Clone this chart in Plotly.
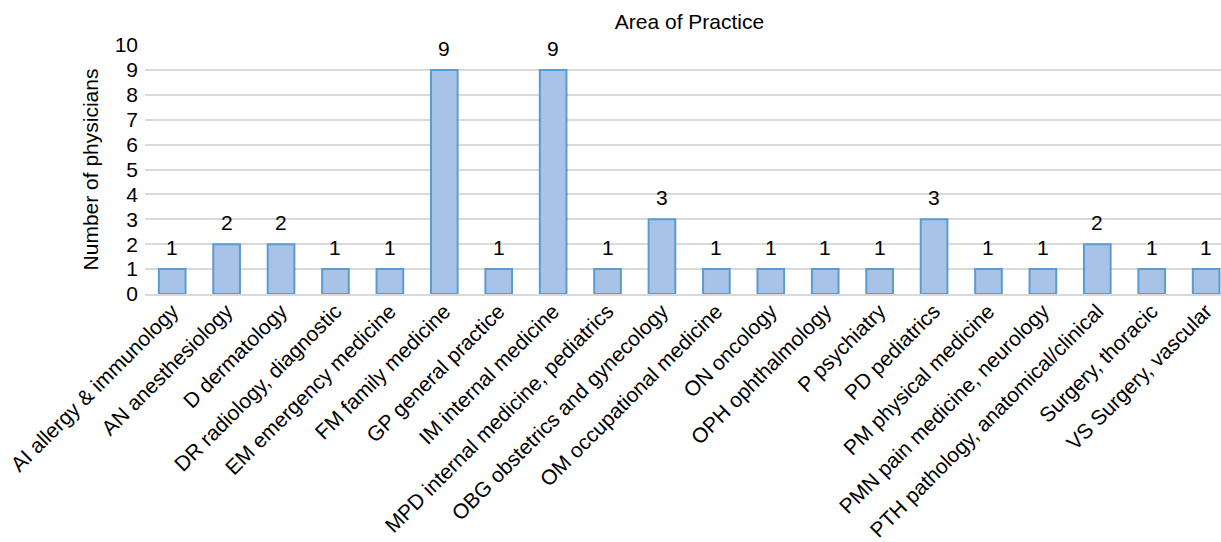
import plotly.graph_objects as go

categories = [
    "AI allergy & immunology", "AN anesthesiology", "D dermatology",
    "DR radiology, diagnostic", "EM emergency medicine", "FM family medicine",
    "GP general practice", "IM internal medicine", "MPD internal medicine, pediatrics",
    "OBG obstetrics and gynecology", "OM occupational medicine", "ON oncology",
    "OPH ophthalmology", "P psychiatry", "PD pediatrics", "PM physical medicine",
    "PMN pain medicine, neurology", "PTH pathology, anatomical/clinical",
    "Surgery, thoracic", "VS Surgery, vascular",
]
values = [1, 2, 2, 1, 1, 9, 1, 9, 1, 3, 1, 1, 1, 1, 3, 1, 1, 2, 1, 1]
yticks = [0, 1, 2, 3, 4, 5, 6, 7, 8, 9, 10]

FONT = "Liberation Sans, Arial, sans-serif"

fig = go.Figure(go.Bar(
    x=categories, y=values,
    marker=dict(color="#a8c3e6", line=dict(color="#5b9bd5", width=2)),
    width=0.49,
))

for c, v in zip(categories, values):
    fig.add_annotation(x=c, y=v, text=str(v), showarrow=False,
                       yanchor="bottom", yshift=8,
                       font=dict(size=21, color="#000"))

n = len(categories)
fig.update_layout(
    width=1221, height=542,
    margin=dict(l=145, r=0, t=45, b=248),
    paper_bgcolor="white", plot_bgcolor="white",
    font=dict(family=FONT, color="#000"),
    title=dict(text="Area of Practice", x=(145 + 1234) / 2 / 1221, xanchor="center",
               y=1 - 22 / 542, yanchor="middle", font=dict(size=21, color="#000")),
    showlegend=False,
    xaxis=dict(range=[-0.5, n - 0.5 - 13 / 57.3], tickangle=-45, automargin=False,
               tickfont=dict(size=21, color="#000"), showgrid=False,
               showline=True, linecolor="#d9d9d9", linewidth=1.5, ticks="",
               ticklabelstandoff=-5),
    yaxis=dict(range=[0, 10], tickvals=yticks, tickfont=dict(size=21, color="#000"),
               automargin=False,
               showgrid=True, gridcolor="#d9d9d9", gridwidth=1.5, zeroline=False,
               title=dict(text="Number of physicians", font=dict(size=21, color="#000"),
                          standoff=10),
               ticks="", ticklabelstandoff=6),
)

fig.write_html("out.html")
